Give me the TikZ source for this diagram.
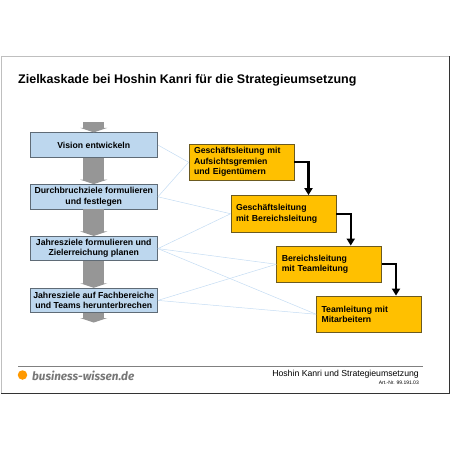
\documentclass[tikz,border=0pt]{standalone}
\usepackage{fontspec}
\setmainfont{Liberation Sans}
\newfontfamily\brandfont{Fira Sans}
\usetikzlibrary{positioning, arrows.meta, calc}
\definecolor{stepfill}{HTML}{BDD7EE}
\definecolor{stepline}{HTML}{5F6B76}
\definecolor{levelfill}{HTML}{FFC000}
\definecolor{levelline}{HTML}{6B5A20}
\definecolor{flowgray}{HTML}{969696}
\definecolor{linkline}{HTML}{C4DCF3}
\definecolor{brandorange}{HTML}{FF9900}
\definecolor{brandgray}{HTML}{777777}
\tikzset{
  stepbox/.style={
    draw=stepline,
    fill=stepfill,
    line width=0.8pt,
    align=center,
    font=\fontsize{8.7}{10.3}\selectfont\bfseries,
    minimum width=127.5pt,
    minimum height=24.5pt,
    inner sep=0pt,
  },
  levelbox/.style={
    draw=levelline,
    fill=levelfill,
    line width=0.8pt,
    align=left,
    font=\fontsize{8.7}{10.5}\selectfont\bfseries,
    text width=95pt,
    minimum height=36.5pt,
    inner xsep=5pt,
    inner ysep=0pt,
  },
  flow/.style={-{Triangle[length=4.5pt, width=27pt]}, flowgray, line width=21pt},
  link/.style={linkline, line width=0.5pt},
  cascade/.style={-{Triangle[length=7pt, width=8pt]}, black, line width=2.2pt},
  rule/.style={gray, line width=0.7pt},
}
\begin{document}
\begin{tikzpicture}[x=1pt, y=-1pt]
\useasboundingbox (0,0) rectangle (450,450);

% Slide frame
\draw[black!25, line width=1pt] (1,393) -- (1,56) -- (449,56);
\draw[black!80, line width=1pt] (449,56) -- (449,393) -- (1,393);

% Title
\node[anchor=west, inner sep=0pt, font=\fontsize{12.5}{15}\selectfont\bfseries] (title) at (18,80.5)
  {Zielkaskade bei Hoshin Kanri für die Strategieumsetzung};

% Left column
\node[stepbox] (vision) at (93.75,145) {Vision entwickeln};
\node[stepbox, below=26.5pt of vision] (durch) {Durchbruchziele formulieren\\und festlegen};
\node[stepbox, below=26.5pt of durch] (jahr) {Jahresziele formulieren und\\Zielerreichung planen};
\node[stepbox, below=26.5pt of jahr] (fach) {Jahresziele auf Fachbereiche\\und Teams herunterbrechen};

% Cascade
\node[levelbox] (gl) at (241.5,162.25) {Geschäftsleitung mit\\Aufsichtsgremien\\und Eigentümern};
\node[levelbox] (glb) at (283.5,213.75) {Geschäftsleitung\\mit Bereichsleitung};
\node[levelbox] (bl) at (329.25,264.25) {Bereichsleitung\\mit Teamleitung};
\node[levelbox] (tl) at (369,314.25) {Teamleitung mit\\Mitarbeitern};

% --- Flow arrows -------------------------------------------------------
\coordinate (flowin) at ($(vision.north)+(0,-10)$);
\coordinate (flowout) at ($(fach.south)+(0,9.5)$);
\draw[flow] (flowin) -- (vision.north);
\foreach \a/\b in {vision/durch, durch/jahr, jahr/fach}
  {\draw[flow] (\a.south) -- (\b.north);}
\draw[flow] (fach.south) -- (flowout);

% Links
\foreach \a/\b in {vision/gl, durch/gl, durch/glb, jahr/glb, jahr/bl, jahr/tl, fach/bl, fach/tl}
  {\draw[link] (\a.east) -- (\b.west);}

% Turns
\foreach \a/\b/\s in {gl/glb/25, glb/bl/21.5, bl/tl/27}
  {\draw[cascade] (\a.east) -| ([xshift=\s pt]\b.north);}

% Footer
\coordinate (rulea) at (18,366.5);
\coordinate (ruleb) at (423,366.5);
\draw[rule] (rulea) -- (ruleb);
\node[circle, fill=brandorange, minimum size=9.5pt, inner sep=0pt] (dot) at (22.5,375) {};
\node[anchor=west, inner sep=0pt, text=brandgray, font=\brandfont\fontsize{11.7}{14}\selectfont\bfseries\itshape] (brand) at (32,375.5) {business-wissen.de};
\node[anchor=east, inner sep=0pt, font=\fontsize{8.7}{10}\selectfont] (sheet) at (419,374) {Hoshin Kanri und Strategieumsetzung};
\node[anchor=east, inner sep=0pt, font=\fontsize{5}{6}\selectfont] (artnr) at (419,382.5) {Art.-Nr. 99.191.03};

\end{tikzpicture}
\end{document}
